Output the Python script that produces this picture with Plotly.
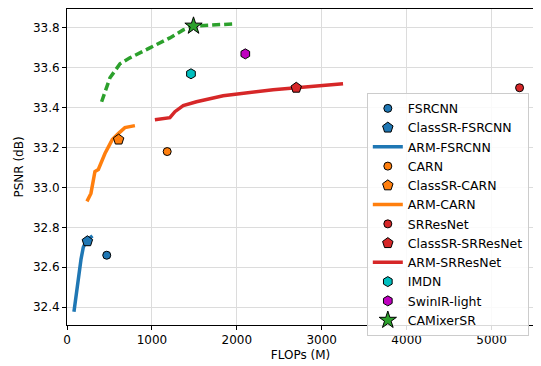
import plotly.graph_objects as go

# Single-model points (FLOPs in M, PSNR in dB)
fsrcnn = (468, 32.66)
classsr_fsrcnn = (240, 32.73)
carn = (1180, 33.18)
classsr_carn = (608, 33.24)
srresnet = (5330, 33.50)
classsr_srresnet = (2700, 33.50)
imdn = (1460, 33.57)
swinir_light = (2100, 33.67)
camixersr = (1490, 33.81)

# ARM curves
arm_fsrcnn_x = [82, 110, 140, 165, 192, 215, 250, 300]
arm_fsrcnn_y = [32.376, 32.47, 32.56, 32.64, 32.70, 32.72, 32.74, 32.757]
arm_carn_x = [235, 282, 329, 369, 447, 533, 604, 682, 800]
arm_carn_y = [32.93, 32.97, 33.08, 33.09, 33.17, 33.24, 33.27, 33.30, 33.31]
arm_srresnet_x = [1035, 1212, 1271, 1369, 1525, 1839, 2427, 2702, 3251]
arm_srresnet_y = [33.34, 33.35, 33.38, 33.41, 33.43, 33.46, 33.49, 33.50, 33.52]
# CAMixerSR curve (dashed)
cam_x = [408, 506, 624, 741, 976, 1212, 1369, 1494, 1957]
cam_y = [33.43, 33.55, 33.62, 33.65, 33.70, 33.75, 33.79, 33.81, 33.82]

BLUE, ORANGE, RED, GREEN = "#1f77b4", "#ff7f0e", "#d62728", "#2ca02c"
CYAN, MAGENTA = "#00bfbf", "#bf00bf"
FS = 12
LFS = 12.5

fig = go.Figure()

def pt(p, name, color, symbol, size):
    fig.add_trace(go.Scatter(x=[p[0]], y=[p[1]], mode="markers", name=name,
                             marker=dict(color=color, symbol=symbol, size=size,
                                         line=dict(color="black", width=1))))

def ln(x, y, name, color, dash="solid", show=True):
    fig.add_trace(go.Scatter(x=x, y=y, mode="lines", name=name, showlegend=show,
                             line=dict(color=color, width=3.5, dash=dash)))

ln(arm_fsrcnn_x, arm_fsrcnn_y, "ARM-FSRCNN", BLUE)
ln(arm_carn_x, arm_carn_y, "ARM-CARN", ORANGE)
ln(arm_srresnet_x, arm_srresnet_y, "ARM-SRResNet", RED)
ln(cam_x, cam_y, "CAMixerSR-curve", GREEN, dash="8px,4px", show=False)

pt(fsrcnn, "FSRCNN", BLUE, "circle", 8)
pt(classsr_fsrcnn, "ClassSR-FSRCNN", BLUE, "pentagon", 11)
pt(carn, "CARN", ORANGE, "circle", 8)
pt(classsr_carn, "ClassSR-CARN", ORANGE, "pentagon", 11)
pt(srresnet, "SRResNet", RED, "circle", 8)
pt(classsr_srresnet, "ClassSR-SRResNet", RED, "pentagon", 11)
pt(imdn, "IMDN", CYAN, "hexagon", 10)
pt(swinir_light, "SwinIR-light", MAGENTA, "hexagon", 10)
pt(camixersr, "CAMixerSR", GREEN, "star", 13)

order = ["FSRCNN", "ClassSR-FSRCNN", "ARM-FSRCNN", "CARN", "ClassSR-CARN", "ARM-CARN",
         "SRResNet", "ClassSR-SRResNet", "ARM-SRResNet", "IMDN", "SwinIR-light", "CAMixerSR"]
for tr in fig.data:
    if tr.name in order:
        tr.legendrank = order.index(tr.name) + 1

axis_common = dict(showline=True, linecolor="black", linewidth=1, mirror=True,
                   ticks="outside", ticklen=4, tickcolor="black",
                   showgrid=True, gridcolor="#dcdcdc", gridwidth=1, zeroline=False,
                   automargin=False,
                   tickfont=dict(size=FS, color="black"))

# page body has an 8px margin, so the figure is sized to fit the 541x366 window
fig.update_layout(
    width=533, height=358,
    margin=dict(l=59, r=7, t=1, b=41),
    paper_bgcolor="white", plot_bgcolor="white",
    font=dict(family="DejaVu Sans", size=FS, color="black"),
    xaxis=dict(range=[0, 5500], tickvals=[0, 1000, 2000, 3000, 4000, 5000],
               title=dict(text="FLOPs (M)", font=dict(size=FS), standoff=4), **axis_common),
    yaxis=dict(range=[32.31, 33.895], tickvals=[32.4, 32.6, 32.8, 33.0, 33.2, 33.4, 33.6, 33.8],
               tickformat=".1f",
               title=dict(text="PSNR (dB)", font=dict(size=FS), standoff=6), **axis_common),
    legend=dict(x=0.642, y=0.735, xanchor="left", yanchor="top",
                bgcolor="rgba(255,255,255,0.85)", bordercolor="#cccccc", borderwidth=1,
                font=dict(size=LFS), tracegroupgap=0, itemwidth=30),
    showlegend=True,
)

fig.write_html("out.html")
